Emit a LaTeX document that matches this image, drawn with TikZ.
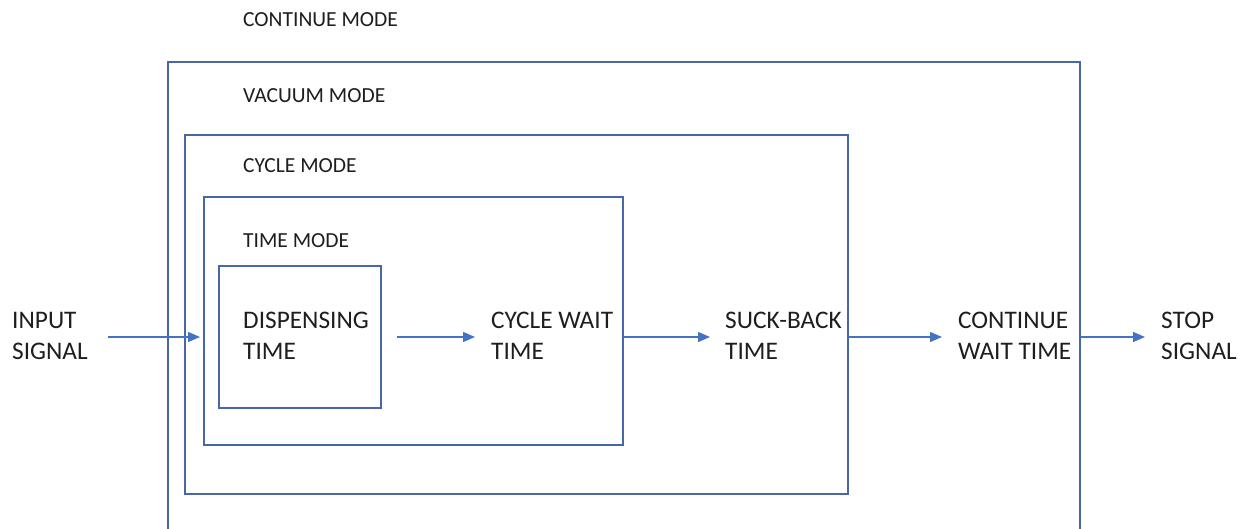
\documentclass[tikz,border=0pt]{standalone}
\usepackage{fontspec}
\setmainfont{Carlito}
\usetikzlibrary{arrows.meta}
\definecolor{boxblue}{RGB}{70,104,166}
\definecolor{arrblue}{RGB}{68,114,196}
\definecolor{txt}{RGB}{30,30,30}
\begin{document}
\begin{tikzpicture}[x=1pt,y=-1pt,
  box/.style={draw=boxblue,line width=1.8pt,rectangle,inner sep=0pt,anchor=north west},
  modelabel/.style={anchor=west,inner sep=0pt,text=txt,font=\fontsize{21.5}{26}\selectfont},
  stepname/.style={anchor=west,inner sep=0pt,text=txt,align=left,font=\fontsize{25.3}{31}\selectfont},
  arr/.style={draw=arrblue,line width=1.3pt,-{Triangle[length=12pt,width=10pt]}}]
\clip (0,0) rectangle (1247,529);
\fill[white] (0,0) rectangle (1247,529);
% boxes
\node[box,minimum width=912pt,minimum height=520pt] (contbox) at (167,61) {};
\node[box,minimum width=663pt,minimum height=359pt] (vacbox) at (184,134) {};
\node[box,minimum width=419pt,minimum height=248pt] (cycbox) at (203,196) {};
\node[box,minimum width=162pt,minimum height=142pt] (dispbox) at (218,265) {};
% mode labels
\node[modelabel] (lcont) at (243,20) {CONTINUE MODE};
\node[modelabel] (lvac) at (243,96) {VACUUM MODE};
\node[modelabel] (lcyc) at (243,166) {CYCLE MODE};
\node[modelabel] (ltime) at (243,241) {TIME MODE};
% step texts
\node[stepname] (input) at (12,336) {INPUT\\SIGNAL};
\node[stepname] (disp) at (243,336) {DISPENSING\\TIME};
\node[stepname] (cwait) at (491,336) {CYCLE WAIT\\TIME};
\node[stepname] (suck) at (725,336) {SUCK-BACK\\TIME};
\node[stepname] (contw) at (958,336) {CONTINUE\\WAIT TIME};
\node[stepname] (stop) at (1161,336) {STOP\\SIGNAL};
% arrows
\draw[arr,shorten <=20pt,shorten >=3pt] (input.east |- 0,337) -- (cycbox.west |- 0,337);
\draw[arr,shorten <=15pt,shorten >=16pt] (dispbox.east |- 0,337) -- (cwait.west |- 0,337);
\draw[arr,shorten >=15pt] (cycbox.east |- 0,337) -- (suck.west |- 0,337);
\draw[arr,shorten >=16pt] (vacbox.east |- 0,337) -- (contw.west |- 0,337);
\draw[arr,shorten >=16pt] (contbox.east |- 0,337) -- (stop.west |- 0,337);
\end{tikzpicture}
\end{document}
